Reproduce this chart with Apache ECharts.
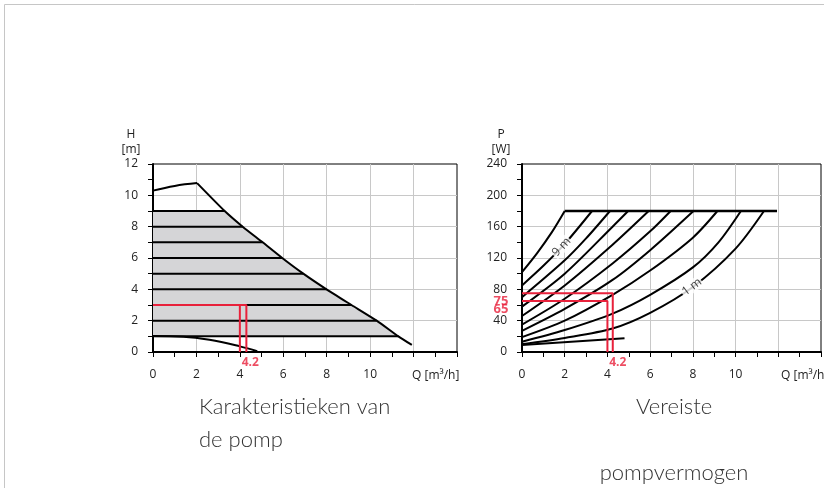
<!DOCTYPE html>
<html>
<head>
<meta charset="utf-8">
<script src="https://cdn.jsdelivr.net/npm/echarts@6/dist/echarts.min.js"></script>
<style>
  html, body { margin: 0; padding: 0; background: #fff; }
  #chart { width: 824px; height: 488px; }
</style>
</head>
<body>
<div id="chart"></div>
<script>
// ---------- Pump head chart (H over Q) ----------
const flowMax = 14;
const headMax = 12;
const headLevels = [1, 2, 3, 4, 5, 6, 7, 8, 9];
const headLevelEnds = [11.3, 10.3, 9.14, 7.99, 6.92, 5.95, 5.05, 4.13, 3.3];
const maxHeadTop = [[0, 10.3], [1, 10.6], [2.03, 10.78]];
const maxHeadSlope = [[2.03, 10.78], [3.3, 9], [4.13, 8], [5.05, 7], [5.95, 6], [6.92, 5],
  [7.99, 4], [9.14, 3], [10.3, 2], [11.3, 1], [11.92, 0.45]];
const minHeadCurve = [[0, 1.02], [1.4, 0.98], [2.6, 0.78], [4, 0.36], [4.8, 0.05]];
const dutyHeadOuter = [[0, 3], [4.3, 3], [4.3, 0]];
const dutyHeadInner = [[0, 3], [4.0, 3], [4.0, 0]];
const dutyFlowMark = [[4.2, 0]];

// ---------- Power chart (P over Q) ----------
const powerMax = 240;
const powerLimit = [[2, 180], [11.94, 180]];
const powerCurveMax = [[0, 102], [0.7, 126], [1.4, 153], [2, 180]];
const powerCurve9 = [[0, 85], [1, 110], [2, 138], [3.28, 180]];
const powerCurve8 = [[0, 70], [2, 117], [3, 145], [4.12, 180]];
const powerCurve7 = [[0, 58], [2, 100], [4.24, 160], [4.97, 180]];
const powerCurve6 = [[0, 46], [2, 85], [4.24, 137], [5.93, 180]];
const powerCurve5 = [[0, 35], [2, 68], [4.24, 113], [6, 154], [6.96, 180]];
const powerCurve4 = [[0, 27], [2, 55], [4.24, 92], [6, 130], [8.03, 180]];
const powerCurve3 = [[0, 19], [2, 40], [4.24, 73], [6, 104], [8, 146], [9.15, 180]];
const powerCurve2 = [[0, 13], [2, 28], [4.24, 49], [6, 73], [8, 108], [9.2, 140], [10.25, 180]];
const powerCurve1 = [[0, 10], [2, 18], [4.24, 30], [6, 50], [8, 83], [10, 132], [11.33, 180]];
const powerMinLine = [[0, 9], [4.8, 17.5]];
const dutyPowerOuter = [[0, 75], [4.25, 75], [4.25, 0]];
const dutyPowerInner = [[0, 65], [4.0, 65], [4.0, 0]];
const dutyPowerMarks = [[0, 75], [0, 65]];
const curveLabel9 = [[1.85, 134, '9 m']];
const curveLabel1 = [[7.95, 83, '1 m']];

const RED = '#e8213b';
const AXIS_FONT = 'Open Sans';
const TITLE_FONT = 'Lato';
const LEFT_GRID = { left: 153, top: 164, width: 304, height: 188 };
const RIGHT_GRID = { left: 522, top: 164, width: 304, height: 188 };

function xAxisFor(gridIndex) {
  return {
    type: 'value', gridIndex, min: 0, max: flowMax, interval: 2,
    axisLine: { lineStyle: { color: '#000', width: 2 } },
    axisTick: { show: true, length: 5, lineStyle: { color: '#000', width: 1 } },
    minorTick: { show: true, splitNumber: 2, length: 5, lineStyle: { color: '#000', width: 1 } },
    axisLabel: { formatter: v => (v <= 10 ? String(v) : ''), margin: 17,
      color: '#222', fontSize: 12, fontFamily: AXIS_FONT },
    splitLine: { show: true, showMinLine: false, showMaxLine: false,
      lineStyle: { color: '#c8c8c8', width: 1 } }
  };
}

function yAxisFor(gridIndex, max, interval, name, shift) {
  return {
    type: 'value', gridIndex, min: 0, max, interval,
    name, nameLocation: 'end', nameGap: 7,
    nameTextStyle: { align: 'center', padding: [0, shift, 0, 0], lineHeight: 15,
      color: '#222', fontSize: 12, fontFamily: AXIS_FONT },
    axisLine: { lineStyle: { color: '#000', width: 2 } },
    axisTick: { show: true, length: 5, lineStyle: { color: '#000', width: 1 } },
    minorTick: { show: true, splitNumber: 2, length: 5, lineStyle: { color: '#000', width: 1 } },
    axisLabel: { margin: 15, color: '#222', fontSize: 12, fontFamily: AXIS_FONT },
    splitLine: { show: true, showMinLine: false, showMaxLine: false,
      lineStyle: { color: '#c8c8c8', width: 1 } }
  };
}

function curve(data, g, opts) {
  return Object.assign({
    type: 'line', xAxisIndex: g, yAxisIndex: g, data, symbol: 'none', silent: true,
    lineStyle: { color: '#000', width: 2 }, z: 3
  }, opts || {});
}

// gray operating field between the lowest and highest head steps
const headField = [[0, headLevels[headLevels.length - 1]]];
for (let i = headLevels.length - 1; i >= 0; i--) headField.push([headLevelEnds[i], headLevels[i]]);
headField.push([0, headLevels[0]]);

const series = [
  {
    type: 'custom', xAxisIndex: 0, yAxisIndex: 0, data: [[0, 0]], silent: true, z: 1,
    renderItem: (params, api) => ({
      type: 'polygon',
      shape: { points: headField.map(p => api.coord(p)) },
      style: { fill: '#d5d5d7' }
    })
  },
  ...headLevels.map((h, i) => curve([[0, h], [headLevelEnds[i], h]], 0)),
  curve(maxHeadTop, 0, { smooth: 0.4 }),
  curve(maxHeadSlope, 0, { smooth: 0.2 }),
  curve(minHeadCurve, 0, { smooth: 0.4 }),
  curve(dutyHeadOuter, 0, { lineStyle: { color: RED, width: 2 }, z: 5 }),
  curve(dutyHeadInner, 0, { lineStyle: { color: RED, width: 2 }, z: 5 }),
  {
    type: 'scatter', xAxisIndex: 0, yAxisIndex: 0, data: dutyFlowMark, symbolSize: 0, z: 6,
    label: { show: true, position: 'inside', offset: [6, 11], formatter: p => String(p.value[0]),
      color: RED, fontWeight: 'bold', fontSize: 12, fontFamily: AXIS_FONT }
  },

  curve(powerLimit, 1, { lineStyle: { color: '#000', width: 2.5 } }),
  curve(powerCurveMax, 1, { smooth: 0.3 }),
  curve(powerCurve9, 1, { smooth: 0.3 }),
  curve(powerCurve8, 1, { smooth: 0.3 }),
  curve(powerCurve7, 1, { smooth: 0.3 }),
  curve(powerCurve6, 1, { smooth: 0.3 }),
  curve(powerCurve5, 1, { smooth: 0.3 }),
  curve(powerCurve4, 1, { smooth: 0.3 }),
  curve(powerCurve3, 1, { smooth: 0.3 }),
  curve(powerCurve2, 1, { smooth: 0.3 }),
  curve(powerCurve1, 1, { smooth: 0.3 }),
  curve(powerMinLine, 1),
  curve(dutyPowerOuter, 1, { lineStyle: { color: RED, width: 2 }, z: 5 }),
  curve(dutyPowerInner, 1, { lineStyle: { color: RED, width: 2 }, z: 5 }),
  {
    type: 'scatter', xAxisIndex: 1, yAxisIndex: 1, data: dutyPowerMarks, symbolSize: 0, z: 6,
    label: { show: true, position: 'inside', offset: [-21, 8], formatter: p => String(p.value[1]),
      color: RED, fontWeight: 'bold', fontSize: 13, fontFamily: AXIS_FONT }
  },
  {
    type: 'scatter', xAxisIndex: 1, yAxisIndex: 1, data: dutyFlowMark, symbolSize: 0, z: 6,
    label: { show: true, position: 'inside', offset: [6, 11], formatter: p => String(p.value[0]),
      color: RED, fontWeight: 'bold', fontSize: 12, fontFamily: AXIS_FONT }
  },
  {
    type: 'scatter', xAxisIndex: 1, yAxisIndex: 1, data: curveLabel9, symbolSize: 0, z: 6,
    label: { show: true, position: 'inside', rotate: 47, formatter: p => p.value[2],
      backgroundColor: '#fff', padding: [0, 1], color: '#111', fontSize: 12, fontFamily: AXIS_FONT }
  },
  {
    type: 'scatter', xAxisIndex: 1, yAxisIndex: 1, data: curveLabel1, symbolSize: 0, z: 6,
    label: { show: true, position: 'inside', rotate: 37, formatter: p => p.value[2],
      backgroundColor: '#fff', padding: [0, 1], color: '#111', fontSize: 12, fontFamily: AXIS_FONT }
  }
];

// flow axis caption, placed under the end of each flow axis
function flowCaption(g) {
  return { type: 'text', silent: true, z: 10,
    x: g.left + g.width - 45, y: g.top + g.height + 24,
    style: { text: 'Q [m³/h]', textAlign: 'left', textVerticalAlign: 'middle',
      font: '12px ' + AXIS_FONT, fill: '#222' } };
}

const chart = echarts.init(document.getElementById('chart'), null, { renderer: 'canvas' });
chart.setOption({
  backgroundColor: '#fff',
  animation: false,
  grid: [
    Object.assign({ show: true, borderColor: '#000', borderWidth: 1, backgroundColor: 'transparent' }, LEFT_GRID),
    Object.assign({ show: true, borderColor: '#000', borderWidth: 1, backgroundColor: 'transparent' }, RIGHT_GRID)
  ],
  xAxis: [xAxisFor(0), xAxisFor(1)],
  yAxis: [
    yAxisFor(0, headMax, 2, 'H\n[m]', 44),
    yAxisFor(1, powerMax, 40, 'P\n[W]', 42)
  ],
  series,
  graphic: [
    { type: 'rect', silent: true, z: -10, shape: { x: 4.5, y: 4.5, width: 900, height: 600 },
      style: { fill: 'none', stroke: '#c6c6c6', lineWidth: 1 } },
    flowCaption(LEFT_GRID),
    flowCaption(RIGHT_GRID),
    { type: 'text', silent: true, x: 199, y: 390,
      style: { text: 'Karakteristieken van\nde pomp', textAlign: 'left', lineHeight: 33,
        font: '300 22px ' + TITLE_FONT, fill: '#333' } },
    { type: 'text', silent: true, x: 674, y: 390,
      style: { text: 'Vereiste\n\npompvermogen', textAlign: 'center', lineHeight: 33,
        font: '300 22px ' + TITLE_FONT, fill: '#333' } }
  ]
});
</script>
</body>
</html>
